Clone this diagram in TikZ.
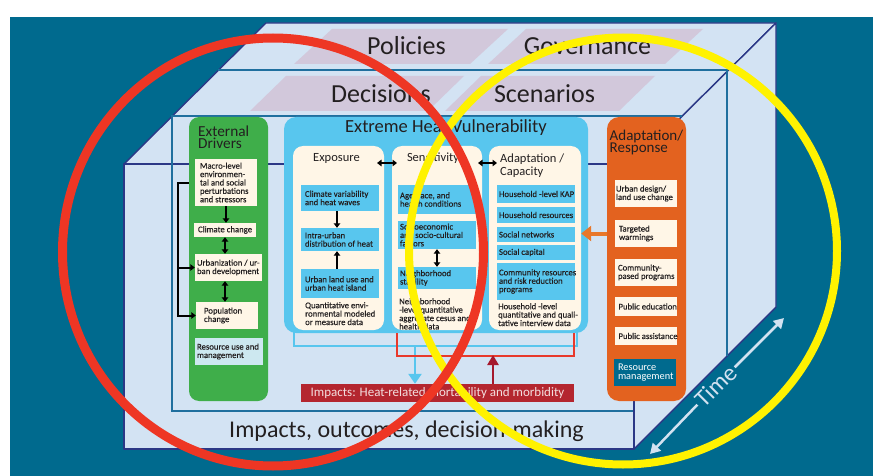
\documentclass[tikz,border=0pt]{standalone}
\usepackage{fontspec}
\setmainfont{Carlito}
\newfontfamily\semifont[FakeBold=0.3]{Carlito}
\usetikzlibrary{arrows.meta,calc}
\definecolor{bgteal}{HTML}{006A8E}
\definecolor{facec}{HTML}{D3E3F3}
\definecolor{navy}{HTML}{2B3886}
\definecolor{lineteal}{HTML}{1F6F9E}
\definecolor{lav}{HTML}{D2C8DB}
\definecolor{grn}{HTML}{3FAE4A}
\definecolor{sky}{HTML}{58C6EE}
\definecolor{cream}{HTML}{FFF6E7}
\definecolor{orng}{HTML}{E3621F}
\definecolor{orarrow}{HTML}{E8772A}
\definecolor{pale}{HTML}{CDE8F0}
\definecolor{impred}{HTML}{B4262F}
\definecolor{brred}{HTML}{E8392B}
\definecolor{dkred}{HTML}{A5192D}
\definecolor{ringred}{HTML}{EE3624}
\definecolor{ringyel}{HTML}{FFF200}
\definecolor{txt}{HTML}{231F20}
\definecolor{timec}{HTML}{D3E2F1}
\definecolor{imptxt}{HTML}{F3DEDE}
\begin{document}
\begin{tikzpicture}[x=1pt,y=-1pt,
  every node/.style={text=txt},
  small/.style={font=\semifont\fontsize{8.7}{8.4}\selectfont},
  sbox/.style={small, inner ysep=0pt, align=flush left},
  cbox/.style={sbox, fill=cream},
  bbox/.style={sbox, fill=sky},
  big/.style={font=\fontsize{26}{26}\selectfont},
  face/.style={fill=facec, draw=navy, line width=1.4pt, line join=round},
  inl/.style={draw=lineteal, line width=1.2pt},
  blk/.style={line width=2pt, draw=black},
  tip/.style={-{Triangle[width=6.5pt,length=4.5pt]}},
  dtip/.style={{Triangle[width=6.5pt,length=4.5pt]}-{Triangle[width=6.5pt,length=4.5pt]}},
  panel/.style={fill=cream, rounded corners=10pt, inner sep=0pt},
]
\useasboundingbox (0,0) rectangle (873,476);
\fill[bgteal] (10,17) rectangle (873,476);
% 3D box
\coordinate (ftl) at (124,164); \coordinate (ftr) at (634,164);
\coordinate (fbr) at (634,449); \coordinate (btl) at (266,23);
\coordinate (btr) at (776,23); \coordinate (bbr) at (776,307);
\path[face] (ftl) -- (btl) -- (btr) -- (ftr) -- cycle;
\path[face] (ftr) -- (btr) -- (bbr) -- (fbr) -- cycle;
\path[face] (ftl) rectangle (fbr);
\draw[inl] (218,70) -- (727,70) -- (727,356);
\draw[inl] (682,116) -- (172,116) -- (172,411) -- (633,411);
% planes
\fill[lav] (294,64) -- (332,29) -- (508,29) -- (470,64) -- cycle;
\fill[lav] (488,64) -- (526,29) -- (703,29) -- (665,64) -- cycle;
\fill[lav] (250,111) -- (286,76) -- (464,76) -- (428,111) -- cycle;
\fill[lav] (445,111) -- (481,76) -- (655,76) -- (619,111) -- cycle;
\node[big, anchor=base] (pol) at (406.5,55) {Policies};
\node[big, anchor=base] (gov) at (587.5,55) {Governance};
\node[big, anchor=base] (dec) at (381,103) {Decisions};
\node[big, anchor=base] (sce) at (544.5,103) {Scenarios};
\node[font=\fontsize{24}{24}\selectfont, anchor=base] (iod) at (406.5,437) {Impacts, outcomes, decision-making};
% External drivers
\node[fill=grn, rounded corners=10pt, minimum width=79pt, minimum height=284pt, inner sep=0pt] (ext) at (228.5,259) {};
\node[font=\fontsize{15.3}{12.5}\selectfont, align=left, anchor=north west, inner sep=0pt] (extT) at (198,125.5) {External\\Drivers};
\node[cbox, minimum height=47pt, text width=52pt, inner xsep=5pt] (macro) at (226,182.5) {Macro-level\\environmen-\\\mbox{tal and social}\\perturbations\\\mbox{and stressors}};
\node[cbox, minimum height=14pt, text width=54pt, inner xsep=4pt] (clim) at (225,230) {\mbox{Climate change}};
\node[cbox, minimum height=27pt, text width=63pt, inner xsep=2pt] (urb) at (228.5,267.5) {\mbox{Urbanization / ur-}\\\mbox{ban development}};
\node[cbox, minimum height=27pt, text width=46pt, inner xsep=8pt] (pop) at (227,315.5) {Population\\change};
\node[sbox, fill=pale, minimum height=27pt, text width=64pt, inner xsep=2pt] (resu) at (229,351.5) {\mbox{Resource use and}\\management};
\draw[blk, tip] (macro.south) -- (macro.south |- clim.north);
\draw[blk, dtip] (clim.south) -- (clim.south |- urb.north);
\draw[blk, dtip] (urb.south -| clim.south) -- (pop.north -| clim.south);
\coordinate (bkTop) at (178,182.5);
\draw[blk, tip] (macro.west -| ext.west) -- (bkTop) |- (pop.west);
\draw[blk, tip] (bkTop |- urb.west) -- (urb.west);
% Extreme heat vulnerability
\node[fill=sky, rounded corners=12pt, minimum width=304pt, minimum height=216pt, inner sep=0pt] (heat) at (436,225) {};
\node[font=\fontsize{18.5}{18}\selectfont, anchor=base] (heatT) at (446,133) {Extreme Heat Vulnerability};
\node[panel, minimum width=91pt, minimum height=184pt] (expo) at (338.5,238) {};
\node[panel, minimum width=90pt, minimum height=184pt] (sens) at (437,238) {};
\node[panel, minimum width=92pt, minimum height=184pt] (adap) at (535,238) {};
\node[font=\fontsize{12.5}{13}\selectfont, anchor=base] (expoT) at (336.5,162) {Exposure};
\node[font=\fontsize{12.5}{13}\selectfont, anchor=base] (sensT) at (433,162) {Sencitivity};
\node[font=\fontsize{12.5}{13}\selectfont, align=left, anchor=north west, inner sep=0pt] (adapT) at (500,153.5) {Adaptation /\\Capacity};
\coordinate (ta1) at (377,163); \coordinate (ta2) at (397,163);
\coordinate (ta3) at (478,163); \coordinate (ta4) at (497,163);
\draw[blk, dtip] (ta1) -- (ta2);
\draw[blk, dtip] (ta3) -- (ta4);
\node[bbox, minimum height=26pt, text width=70pt, inner xsep=4pt] (e1) at (340,198) {\mbox{Climate variability}\\\mbox{and heat waves}};
\node[bbox, minimum height=23pt, text width=70pt, inner xsep=4pt] (e2) at (340,239.5) {Intra-urban\\\mbox{distribution of heat}};
\node[bbox, minimum height=29pt, text width=70pt, inner xsep=4pt] (e3) at (340,283.5) {\mbox{Urban land use and}\\\mbox{urban heat island}};
\node[small, align=left, anchor=north west, inner sep=0pt] (expoTx) at (305,302) {Quantitative envi-\\ronmental modeled\\or measure data};
\draw[blk, tip] ([xshift=-3pt]e1.south) -- ([xshift=-3pt]e2.north);
\draw[blk, tip] ([xshift=-3pt]e3.north) -- ([xshift=-3pt]e2.south);
\node[bbox, minimum height=29pt, text width=74pt, inner xsep=2pt] (s1) at (437,199.5) {\mbox{Age, race, and}\\\mbox{health conditions}\\[4pt]};
\node[bbox, minimum height=28pt, text width=74pt, inner xsep=2pt] (s2) at (437,235) {Socioeconomic\\\mbox{and socio-cultural}\\factors};
\node[bbox, minimum height=22pt, text width=74pt, inner xsep=2pt] (s3) at (437,278) {Neighborhood\\stability};
\draw[blk, dtip] (s2.south) -- (s3.north);
\node[small, align=left, anchor=north west, inner sep=0pt] (sensTx) at (399,298) {Neighborhood\\-level quantitative\\aggregate cesus and\\health data};
\node[bbox, minimum height=18pt, text width=74pt, inner xsep=2pt] (a1) at (536,194) {\mbox{Household -level KAP}};
\node[bbox, minimum height=16pt, text width=74pt, inner xsep=2pt] (a2) at (536,215) {\mbox{Household resources}};
\node[bbox, minimum height=15pt, text width=74pt, inner xsep=2pt] (a3) at (536,234.5) {\mbox{Social networks}};
\node[bbox, minimum height=15pt, text width=74pt, inner xsep=2pt] (a4) at (536,252.5) {\mbox{Social capital}};
\node[bbox, minimum height=37pt, text width=74pt, inner xsep=2pt] (a5) at (536,281.5) {\mbox{Community resources}\\\mbox{and risk reduction}\\programs};
\node[small, align=left, anchor=north west, inner sep=0pt] (adapTx) at (498,303) {Household -level\\quantitative and quali-\\tative interview data};
% Adaptation / response
\node[fill=orng, rounded corners=12pt, minimum width=79pt, minimum height=284pt, inner sep=0pt] (resp) at (646.5,259) {};
\node[font=\fontsize{15}{12.7}\selectfont, align=left, anchor=north west, inner sep=0pt] (respT) at (609.5,129.5) {Adaptation/\\Response};
\node[cbox, minimum height=27pt, text width=60pt, inner xsep=1pt] (o1) at (646,193.5) {\mbox{Urban design/}\\\mbox{land use change}};
\node[cbox, minimum height=27pt, text width=54pt, inner xsep=4pt] (o2) at (646,233.5) {Targeted\\warmings};
\node[cbox, minimum height=27pt, text width=56pt, inner xsep=3pt] (o3) at (646,272.5) {Community-\\\mbox{pased programs}};
\node[cbox, minimum height=19pt, text width=55pt, inner xsep=3.5pt] (o4) at (646,306.5) {\mbox{Public education}};
\node[cbox, minimum height=18pt, text width=55pt, inner xsep=3.5pt] (o5) at (646,336) {\mbox{Public assistance}};
\node[sbox, fill=bgteal, text=white, font=\fontsize{10.3}{9}\selectfont, minimum height=27pt, text width=54pt, inner xsep=4pt] (o6) at (645,372.5) {Resource\\management};
\draw[orarrow, line width=4pt, -{Triangle[width=15pt,length=10pt]}] (o2 -| resp.west) -- (o2 -| adap.east);
% impacts
\node[fill=impred, minimum width=273pt, minimum height=18pt, inner sep=0pt, text=imptxt, font=\fontsize{13}{13}\selectfont] (imp) at (437.5,393) {Impacts: Heat-related mortability and morbidity};
\coordinate (lb1) at (294,330); \coordinate (lb2) at (294,346);
\coordinate (lb3) at (577,346); \coordinate (lb4) at (577,330);
\coordinate (lbA) at (415,346);
\draw[sky, line width=2.7pt] (lb1) -- (lb2) -- (lb3) -- (lb4);
\draw[sky, line width=2.7pt, -{Triangle[width=13pt,length=10pt]}] (lbA) -- (lbA |- imp.north);
\coordinate (rb1) at (397,333); \coordinate (rb2) at (397,356);
\coordinate (rb3) at (574,356); \coordinate (rb4) at (574,333);
\coordinate (rbA) at (493,355);
\draw[brred, line width=2.5pt] (rb1) -- (rb2) -- (rb3) -- (rb4);
\draw[dkred, line width=2.7pt, -{Triangle[width=11pt,length=10pt]}] (rbA |- imp.north) -- (rbA);
% time
\node[rotate=45, font=\fontsize{24}{24}\selectfont, text=timec, inner sep=2pt] (time) at (716,386) {Time};
\coordinate (tS) at (650,454); \coordinate (tE) at (784,318);
\draw[timec, line width=2.5pt, -{Triangle[width=11pt,length=10pt]}] (time.west) -- (tS);
\draw[timec, line width=2.5pt, -{Triangle[width=11pt,length=10pt]}] (time.east) -- (tE);
% rings
\draw[ringyel, line width=8pt] (623,251) ellipse [x radius=214, y radius=213.5];
\draw[ringred, line width=9pt] (273,252) ellipse [x radius=210.5, y radius=214];
\end{tikzpicture}
\end{document}
